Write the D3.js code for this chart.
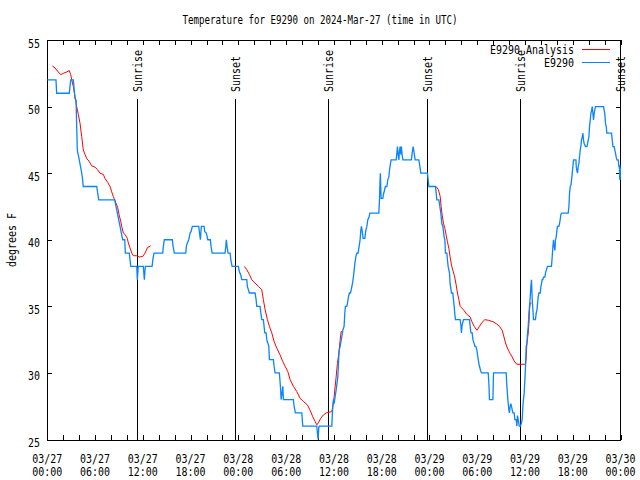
<!DOCTYPE html>
<html><head><meta charset="utf-8">
<script src="https://cdn.jsdelivr.net/npm/d3@7"></script>
<style>html,body{margin:0;padding:0;background:#fff;} svg{display:block;}</style>
</head><body>
<script>
// ---------- DATA ----------
const chartTitle = "Temperature for E9290 on 2024-Mar-27 (time in UTC)";
const yAxisLabel = "degrees F";
const seriesNames = ["E9290 Analysis", "E9290"];
const startTimeUTC = Date.UTC(2024, 2, 27, 0, 0);   // hours below are counted from this
const xTickHours = d3.range(0, 73, 2);
const xLabelHours = d3.range(0, 73, 6);
const yTickValues = [25, 30, 35, 40, 45, 50, 55];

// observations (E9290)
const obsHours = [0.00,1.09,1.18,2.76,2.94,3.27,3.39,3.48,3.61,3.69,3.77,3.95,4.11,4.27,4.40,4.52,6.21,6.33,6.46,8.47,8.63,8.80,8.97,9.14,9.30,9.47,9.73,9.80,10.30,10.39,10.48,11.23,11.31,11.43,12.06,12.19,12.31,13.16,13.28,13.41,14.50,14.58,14.70,15.71,15.80,15.96,17.39,17.47,17.55,17.77,17.93,18.06,18.22,19.02,19.10,19.23,19.35,19.69,19.78,19.98,20.16,20.48,20.57,20.70,22.33,22.42,22.49,22.58,22.71,22.96,23.05,23.21,24.00,24.13,24.30,24.43,25.06,25.13,25.38,26.10,26.23,26.31,26.73,26.82,26.94,27.14,27.23,27.32,27.48,27.57,27.82,27.90,28.40,28.49,28.61,29.15,29.28,29.37,29.49,29.58,29.66,30.91,31.00,31.16,31.97,32.09,33.85,33.93,34.02,34.10,34.18,35.74,35.81,35.94,36.03,36.15,36.28,36.49,36.57,36.66,36.78,36.99,37.12,37.28,37.37,37.45,37.62,37.70,37.82,37.95,38.08,38.16,38.33,38.45,38.54,38.63,38.75,38.88,39.04,39.17,39.29,39.38,39.46,39.54,39.67,39.88,40.01,40.14,40.26,40.42,40.51,41.64,41.72,41.80,41.84,41.93,42.15,42.22,42.35,42.47,42.65,42.77,42.90,42.98,43.10,43.19,43.82,43.91,43.98,44.07,44.16,44.23,44.32,44.41,44.48,44.57,44.66,45.74,45.83,45.96,46.08,46.21,46.67,46.75,46.92,47.68,47.75,47.84,47.93,48.76,48.85,48.93,49.18,49.26,49.43,49.56,49.69,49.85,49.94,50.01,50.19,50.26,50.35,50.52,50.60,50.77,50.94,51.02,51.11,51.19,51.27,51.86,51.95,52.02,52.11,52.28,53.03,53.12,53.21,53.37,53.46,53.62,53.71,53.83,53.96,54.08,54.21,54.29,54.41,54.54,55.38,55.47,55.54,55.97,56.05,57.64,57.73,57.85,57.98,58.05,58.14,58.23,58.30,58.48,58.64,58.73,58.90,58.98,59.06,59.15,59.28,59.44,59.53,59.65,59.74,59.81,59.90,59.99,60.07,60.15,60.24,60.32,60.41,60.50,60.57,60.66,60.74,60.82,60.91,61.00,61.07,61.32,61.41,61.50,61.58,61.66,61.75,61.92,62.00,62.08,62.16,62.25,62.33,62.50,62.58,62.67,62.83,63.33,63.42,63.51,63.59,63.67,63.76,63.84,63.92,64.01,64.09,64.26,64.34,64.42,64.51,64.64,65.43,65.52,65.60,65.69,65.78,65.85,65.94,66.02,66.10,66.31,66.40,66.44,66.52,66.60,66.69,66.77,66.85,66.93,67.02,67.10,67.19,67.28,67.35,67.44,67.61,67.78,67.86,67.95,68.03,68.11,68.20,68.28,68.36,68.45,68.53,68.61,68.70,68.79,68.86,69.87,69.96,70.04,70.12,70.21,70.29,70.87,70.96,71.05,71.21,71.30,71.37,71.46,71.55,71.71,71.80,71.86,71.90,71.93,71.96,71.99];
const obsTemps = [52.0,52.0,51.0,51.0,52.0,52.0,51.2,50.6,50.5,48.6,46.7,46.2,45.7,45.2,44.7,44.0,44.0,43.5,43.0,43.0,42.5,42.0,41.5,41.0,40.5,40.0,40.0,39.0,39.0,38.5,38.0,38.0,37.0,38.0,38.0,37.0,38.0,38.0,38.6,39.0,39.0,39.5,40.0,40.0,39.5,39.0,39.0,39.5,39.7,40.0,40.5,40.6,41.0,41.0,40.6,40.0,41.0,41.0,40.6,40.5,40.0,40.0,39.5,39.0,39.0,39.5,40.0,39.5,39.0,39.0,38.5,38.0,38.0,37.6,37.35,37.0,37.0,36.5,36.0,36.0,35.5,35.0,35.0,34.5,34.0,34.0,33.5,33.0,33.0,32.5,32.0,31.0,31.0,30.5,30.0,30.0,29.0,28.0,28.5,29.0,28.0,28.0,27.5,27.0,27.0,26.0,26.0,25.5,25.0,25.9,26.0,26.0,27.0,28.0,27.7,28.2,28.7,29.7,30.7,31.7,32.0,32.7,33.2,33.5,34.5,35.0,35.0,35.2,35.7,36.0,36.0,36.2,36.7,37.2,37.7,38.2,38.7,39.0,39.0,39.5,40.0,40.7,41.0,40.7,40.1,40.1,40.7,41.0,41.5,41.7,42.0,42.0,42.9,44.5,45.0,43.1,43.1,43.4,43.7,44.0,44.0,44.5,44.7,45.2,45.7,46.0,46.0,46.5,47.0,46.4,46.0,46.6,47.0,46.4,47.0,46.4,46.0,46.0,46.5,47.0,46.5,46.0,46.0,45.7,45.0,45.0,45.0,44.5,44.0,44.0,43.5,43.0,43.0,42.7,42.0,41.2,41.0,40.2,40.0,39.0,39.0,38.5,38.0,37.5,36.7,36.0,36.0,35.5,35.0,34.4,34.0,34.0,33.6,33.0,33.6,34.0,34.0,33.5,33.0,33.0,32.5,32.2,32.0,32.0,31.7,31.2,30.7,30.5,30.2,30.0,30.0,29.2,28.0,28.0,30.0,30.0,29.0,28.0,27.2,27.0,27.5,27.7,27.5,27.0,27.0,26.5,26.5,26.0,26.8,26.5,26.0,26.0,26.2,26.5,27.5,28.0,28.5,29.5,30.5,32.0,32.2,33.0,33.5,34.5,35.0,35.7,36.5,37.0,35.5,34.7,34.0,34.0,34.5,34.7,35.2,35.7,36.0,36.0,36.5,36.7,37.0,37.0,37.2,37.2,37.5,37.7,38.0,38.0,38.7,39.5,40.0,39.5,39.2,40.0,40.2,40.7,41.0,41.0,41.2,41.5,41.9,42.0,42.0,42.5,43.5,44.0,44.1,44.5,45.0,45.5,46.0,46.0,46.0,45.5,45.2,45.0,45.5,45.7,46.2,46.7,47.0,47.5,47.7,48.0,47.5,47.2,47.0,47.0,47.2,47.5,47.7,48.5,49.0,49.5,49.7,50.0,49.5,49.0,49.5,49.8,50.0,50.0,49.7,49.4,48.7,48.5,48.0,48.0,47.5,47.0,47.0,46.7,46.5,46.2,46.0,46.0,45.5,45.5,44.5,45.6,44.5,45.4];

// analysis (E9290 Analysis) - null marks a gap
const anaHours = [0.63,0.97,1.38,1.68,2.01,2.44,2.76,2.94,3.07,3.27,3.48,3.69,3.90,4.11,4.32,4.52,4.74,4.95,5.24,5.58,5.99,6.33,6.62,7.04,7.25,7.59,7.88,8.09,8.29,8.63,8.85,9.01,9.22,9.39,9.55,9.76,10.05,10.18,10.39,10.61,10.81,11.23,11.56,11.99,12.28,12.57,12.99,
  18.0,
  24.75,25.06,25.38,25.68,26.10,26.51,26.94,27.14,27.36,27.65,27.90,28.20,28.49,28.83,29.24,29.58,29.87,30.21,30.50,30.91,31.34,31.75,32.17,32.67,33.01,33.35,33.64,33.85,34.05,34.36,34.68,35.06,35.40,35.74,35.86,36.03,36.15,36.28,36.44,36.62,36.78,36.91,37.03,
  42.0,
  48.84,49.13,49.35,49.47,49.60,49.76,49.94,50.10,50.26,50.44,50.60,50.77,50.94,51.14,51.36,51.52,51.70,51.86,52.27,52.70,53.11,53.33,53.62,53.96,54.29,54.62,54.96,55.42,55.97,56.38,56.80,57.14,57.30,57.51,57.73,57.93,58.14,58.39,58.64,58.98,60.07,60.15,60.24,60.41,60.50,60.57,60.66,60.82];
const anaTemps = [53.05,52.9,52.6,52.4,52.5,52.6,52.7,52.4,52.0,51.5,50.75,50.0,49.4,48.75,47.75,46.75,46.4,46.1,45.9,45.55,45.45,45.25,45.0,44.9,44.6,44.3,44.0,43.6,43.25,42.75,42.4,41.9,41.4,40.9,40.5,40.4,40.1,39.75,39.4,39.0,38.8,38.8,38.7,38.75,39.0,39.4,39.55,
  null,
  38.0,37.75,37.4,37.0,36.75,36.5,36.25,35.5,34.75,34.0,33.5,33.0,32.35,31.85,31.35,30.85,30.5,30.1,29.5,29.0,28.6,28.1,27.85,27.6,27.2,26.7,26.35,26.1,26.25,26.6,26.85,27.0,27.05,27.1,27.5,28.2,28.95,29.7,30.7,31.45,32.45,33.1,33.1,
  null,
  44.0,43.75,43.25,42.5,41.85,41.25,40.85,40.35,39.85,39.35,38.7,38.1,37.7,37.3,36.6,36.0,35.5,35.0,34.75,34.4,34.2,33.85,33.5,33.2,33.5,33.8,34.0,33.95,33.85,33.7,33.5,33.2,32.85,32.35,31.95,31.7,31.45,31.2,30.9,30.65,30.65,31.1,32.2,33.0,33.75,34.75,35.25,35.25];

// sunrise / sunset markers
const sunHours = [11.33, 23.62, 35.29, 47.70, 59.37, 71.88];
const sunLabels = ["Sunrise", "Sunset", "Sunrise", "Sunset", "Sunrise", "Sunset"];

// ---------- DRAWING ----------
const W = 640, H = 480;
const M = {left: 47, right: 621, top: 40, bottom: 440};
const colors = {analysis: "#ff0000", obs: "#0a84ff"};
const FONT = "'DejaVu Sans Mono', 'Liberation Mono', monospace";
const CHAR_W = 6;

const svg = d3.select("body").append("svg").attr("width", W).attr("height", H)
  .style("font-family", FONT).style("font-size", "12px");

const x = d3.scaleLinear().domain([0, 72]).range([M.left + 0.3, M.right - 0.5]);
const y = d3.scaleLinear().domain([25, 55]).range([M.bottom - 0.5, M.top]);

function txt(sel, s, cw) {
  return sel.text(s).attr("textLength", s.length * (cw || CHAR_W)).attr("lengthAdjust", "spacingAndGlyphs");
}

// title
txt(svg.append("text").attr("x", W / 2).attr("y", 24).attr("text-anchor", "middle"), chartTitle, 5.5);

// y axis label
txt(svg.append("text").attr("transform", "translate(12,240) rotate(-90)")
  .attr("text-anchor", "middle").attr("dy", "0.36em"), yAxisLabel);

// ticks via d3 axes
const tickLen = 5;
const axB = svg.append("g").attr("transform", `translate(0,${M.bottom})`)
  .call(d3.axisBottom(x).tickValues(xTickHours).tickSize(-tickLen).tickFormat(""));
const axT = svg.append("g").attr("transform", `translate(0,${M.top})`)
  .call(d3.axisTop(x).tickValues(xTickHours).tickSize(-tickLen).tickFormat(""));
const axL = svg.append("g").attr("transform", `translate(${M.left},0)`)
  .call(d3.axisLeft(y).tickValues(yTickValues).tickSize(-tickLen).tickFormat(""));
const axR = svg.append("g").attr("transform", `translate(${M.right},0)`)
  .call(d3.axisRight(y).tickValues(yTickValues).tickSize(-tickLen).tickFormat(""));
[axB, axT, axL, axR].forEach(g => {
  g.select(".domain").remove();
  g.selectAll("line").attr("stroke", "#000").attr("shape-rendering", "crispEdges");
});

// y tick labels
yTickValues.forEach(v => {
  txt(svg.append("text").attr("x", 40).attr("y", y(v) + 7.5).attr("text-anchor", "end"), String(v));
});

// x tick labels (two lines)
const fmtDate = d3.utcFormat("%m/%d"), fmtTime = d3.utcFormat("%H:%M");
xLabelHours.forEach(h => {
  const t = new Date(startTimeUTC + h * 3600e3);
  txt(svg.append("text").attr("x", x(h)).attr("y", 463).attr("text-anchor", "middle"), fmtDate(t));
  txt(svg.append("text").attr("x", x(h)).attr("y", 476).attr("text-anchor", "middle"), fmtTime(t));
});

// border
svg.append("rect").attr("x", M.left + 0.5).attr("y", M.top + 0.5)
  .attr("width", M.right - M.left - 1).attr("height", M.bottom - M.top)
  .attr("fill", "none").attr("stroke", "#000").attr("shape-rendering", "crispEdges");

// sunrise/sunset lines and labels
sunHours.forEach((h, i) => {
  const xx = Math.round(x(h)) + 0.5;
  svg.append("line").attr("x1", xx).attr("x2", xx).attr("y1", 99).attr("y2", M.bottom)
    .attr("stroke", "#000").attr("shape-rendering", "crispEdges");
  txt(svg.append("text").attr("transform", `translate(${xx},92) rotate(-90)`)
    .attr("dy", "0.4em"), sunLabels[i]);
});

// lines
const obsData = obsHours.map((h, i) => ({h, t: obsTemps[i]}));
const anaData = anaHours.map((h, i) => ({h, t: anaTemps[i]}));
const line = d3.line().defined(d => d.t !== null).x(d => x(d.h)).y(d => y(d.t));

svg.append("path").datum(anaData).attr("d", line).attr("fill", "none")
  .attr("stroke", colors.analysis).attr("stroke-width", 1);
svg.append("path").datum(obsData).attr("d", line).attr("fill", "none")
  .attr("stroke", colors.obs).attr("stroke-width", 1.3);

// legend
const legY = [49.5, 62.5];
const legColors = [colors.analysis, colors.obs];
seriesNames.forEach((n, i) => {
  txt(svg.append("text").attr("x", 574).attr("y", legY[i] + 4.5).attr("text-anchor", "end"), n);
  svg.append("line").attr("x1", 582).attr("x2", 610).attr("y1", legY[i]).attr("y2", legY[i])
    .attr("stroke", legColors[i]).attr("stroke-width", 1).attr("shape-rendering", "crispEdges");
});
</script>
</body></html>
